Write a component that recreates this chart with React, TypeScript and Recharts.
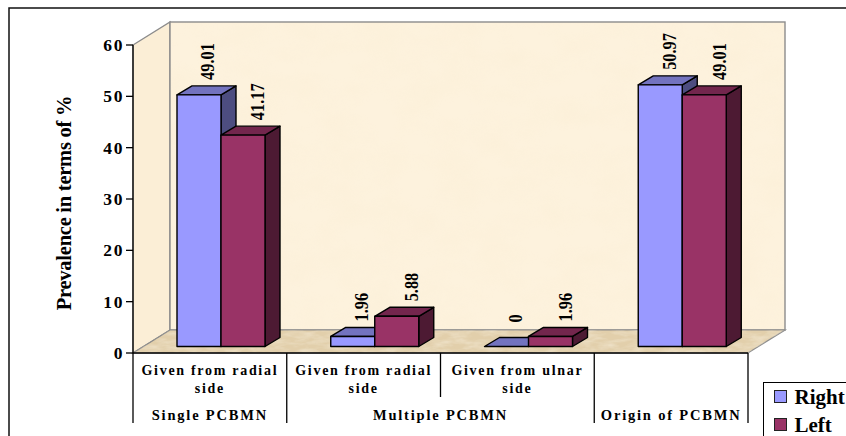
import { Bar, BarChart, LabelList, Legend, XAxis, YAxis } from 'recharts';

const categories = ['Given from radial side', 'Given from radial side', 'Given from ulnar side', ''];
const rightValues = [49.01, 1.96, 0, 50.97];
const leftValues = [41.17, 5.88, 1.96, 49.01];
const yTicks = [0, 10, 20, 30, 40, 50, 60];
const groupLabels = ['Single PCBMN', 'Multiple PCBMN', '', 'Origin of PCBMN'];
const groupSpans = [1, 2, 0, 1];

const data = categories.map((category, i) => ({
  category,
  right: rightValues[i],
  left: leftValues[i],
}));

const SERIF = '"Liberation Serif", "Times New Roman", serif';
const LEFT = 133;
const TOP = 45;
const BOTTOM = 353;
const RIGHT = 748;
const STEP = (RIGHT - LEFT) / categories.length;

// depth of the fake 3d box
const WALL_DX = 37;
const WALL_DY = 23;
const BAR_DX = 15;
const BAR_DY = 9;
const SHIFT_X = 11;
const SHIFT_Y = -6.5;

const rightColors = { front: '#9999ff', top: '#7373bf', side: '#4d4d80' };
const leftColors = { front: '#993366', top: '#73264d', side: '#4d1a33' };

const Bar3D = (colors: typeof rightColors) => (props: any) => {
  const x = props.x + SHIFT_X;
  const y = props.y + SHIFT_Y;
  const { width: w, height: h } = props;
  const line = { stroke: '#000', strokeWidth: 1.4, strokeLinejoin: 'round' as const };
  return (
    <g>
      <polygon
        points={`${x + w},${y} ${x + w + BAR_DX},${y - BAR_DY} ${x + w + BAR_DX},${y + h - BAR_DY} ${x + w},${y + h}`}
        fill={colors.side}
        {...line}
      />
      <polygon
        points={`${x},${y} ${x + BAR_DX},${y - BAR_DY} ${x + w + BAR_DX},${y - BAR_DY} ${x + w},${y}`}
        fill={colors.top}
        {...line}
      />
      <rect x={x} y={y} width={w} height={h} fill={colors.front} {...line} />
    </g>
  );
};

const ValueLabel = (extraX: number) => (props: any) => {
  const { x, y, width, value } = props;
  const cx = x + SHIFT_X + width / 2 + extraX;
  const gap = value === 0 ? 24 : 15;
  const bottom = y + SHIFT_Y - gap;
  // the original text is tall and squeezed along its length
  return (
    <text
      transform={`translate(${cx} ${bottom}) rotate(-90) scale(0.86 1)`}
      dominantBaseline="central"
      fontFamily={SERIF}
      fontSize={19}
      fontWeight="bold"
      fill="#000"
    >
      {value}
    </text>
  );
};

const CategoryTick = (props: any) => {
  const { x, index, payload } = props;
  const words = String(payload.value);
  const last = words.lastIndexOf(' ');
  const lines = last > 0 ? [words.slice(0, last), words.slice(last + 1)] : [words];
  const left = x - STEP / 2;
  return (
    <g>
      <line x1={left} x2={left} y1={BOTTOM} y2={index === 2 ? 397 : 423} stroke="#000" strokeWidth={1.3} />
      {index === categories.length - 1 && (
        <line x1={x + STEP / 2} x2={x + STEP / 2} y1={BOTTOM} y2={423} stroke="#000" strokeWidth={1.3} />
      )}
      {lines.map((line, i) => (
        <text
          key={i}
          x={x}
          y={375 + i * 18}
          textAnchor="middle"
          fontFamily={SERIF}
          fontSize={14}
          fontWeight="bold"
          letterSpacing={1.7}
          fill="#000"
        >
          {line}
        </text>
      ))}
    </g>
  );
};

const GroupTick = (props: any) => {
  const { x, index } = props;
  if (!groupLabels[index]) return <g />;
  return (
    <text
      x={x + ((groupSpans[index] - 1) * STEP) / 2}
      y={420}
      textAnchor="middle"
      fontFamily={SERIF}
      fontSize={14.5}
      fontWeight="bold"
      letterSpacing={1.8}
      fill="#000"
    >
      {groupLabels[index]}
    </text>
  );
};

const YTick = (props: any) => (
  <text
    x={props.x}
    y={props.y + 6}
    textAnchor="end"
    fontFamily={SERIF}
    fontSize={17.5}
    fontWeight="bold"
    letterSpacing={1.6}
    fill="#000"
  >
    {props.payload.value}
  </text>
);

const LegendBox = (props: any) => (
  <div
    style={{
      width: 90,
      height: 60,
      boxSizing: 'border-box',
      border: '1.5px solid #000',
      background: '#fff',
      paddingLeft: 10,
      paddingTop: 2.5,
      fontFamily: SERIF,
      fontWeight: 'bold',
      fontSize: 21,
      lineHeight: '22px',
      color: '#000',
      whiteSpace: 'nowrap',
    }}
  >
    {(props.payload || []).map((item: any) => (
      <div key={item.value} style={{ display: 'flex', alignItems: 'center', marginBottom: 6 }}>
        <span
          style={{
            display: 'inline-block',
            boxSizing: 'border-box',
            width: 13,
            height: 13,
            background: item.color,
            border: '1px solid #222',
            marginRight: 7.5,
          }}
        />
        {item.value}
      </div>
    ))}
  </div>
);

const Box = () => (
  <g>
    <defs>
      <filter id="paper" x="0" y="0" width="100%" height="100%">
        <feTurbulence type="fractalNoise" baseFrequency="0.025 0.04" numOctaves={3} seed={4} />
        <feColorMatrix values="0 0 0 0 0.93  0 0 0 0 0.80  0 0 0 0 0.58  0.9 0 0 0 -0.3" />
      </filter>
      <filter id="sand" x="0" y="0" width="100%" height="100%">
        <feTurbulence type="fractalNoise" baseFrequency="0.06 0.2" numOctaves={3} seed={9} />
        <feColorMatrix values="0 0 0 0 0.98  0 0 0 0 0.93  0 0 0 0 0.82  1.6 0 0 0 -0.55" />
      </filter>
      <clipPath id="floorClip">
        <polygon points={`${LEFT},${BOTTOM} ${LEFT + WALL_DX},${BOTTOM - WALL_DY} ${RIGHT + WALL_DX},${BOTTOM - WALL_DY} ${RIGHT},${BOTTOM}`} />
      </clipPath>
    </defs>
    <rect x={9} y={8} width={900} height={500} fill="#fff" stroke="#111" strokeWidth={1.5} />
    <polygon
      points={`${LEFT},${TOP} ${LEFT + WALL_DX},${TOP - WALL_DY} ${LEFT + WALL_DX},${BOTTOM - WALL_DY} ${LEFT},${BOTTOM}`}
      fill="#fbeed6"
      stroke="#8c8c8c"
      strokeWidth={1.4}
    />
    <rect
      x={LEFT + WALL_DX}
      y={TOP - WALL_DY}
      width={RIGHT - LEFT}
      height={BOTTOM - TOP}
      fill="#fdf2dd"
    />
    <rect
      x={LEFT + WALL_DX}
      y={TOP - WALL_DY}
      width={RIGHT - LEFT}
      height={BOTTOM - TOP}
      filter="url(#paper)"
      opacity={0.3}
    />
    <rect
      x={LEFT + WALL_DX}
      y={TOP - WALL_DY}
      width={RIGHT - LEFT}
      height={BOTTOM - TOP}
      fill="none"
      stroke="#8c8c8c"
      strokeWidth={1.4}
    />
    <polygon
      points={`${LEFT},${BOTTOM} ${LEFT + WALL_DX},${BOTTOM - WALL_DY} ${RIGHT + WALL_DX},${BOTTOM - WALL_DY} ${RIGHT},${BOTTOM}`}
      fill="#e2cfab"
      stroke="#8c8c8c"
      strokeWidth={1.2}
    />
    <g clipPath="url(#floorClip)">
      <rect x={LEFT} y={BOTTOM - WALL_DY} width={RIGHT - LEFT + WALL_DX} height={WALL_DY} filter="url(#sand)" opacity={0.5} />
    </g>
  </g>
);

export default function App() {
  return (
    <div style={{ position: 'fixed', left: 0, top: 0, width: 846, height: 436, overflow: 'hidden', background: '#fff' }}>
      <BarChart
        width={846}
        height={436}
        data={data}
        margin={{ top: TOP, right: 846 - RIGHT, bottom: 0, left: 33 }}
        barSize={44}
        barGap={0}
      >
        <Box />
        <YAxis
          width={100}
          domain={[0, 60]}
          ticks={yTicks}
          interval={0}
          tick={YTick}
          tickSize={7}
          axisLine={{ stroke: '#000', strokeWidth: 1.3 }}
          tickLine={{ stroke: '#000', strokeWidth: 1.3 }}
          label={{
            value: 'Prevalence in terms of %',
            angle: -90,
            position: 'center',
            dx: -19,
            dy: 4,
            style: { fontFamily: SERIF, fontSize: 20.5, fontWeight: 'bold', fill: '#000', letterSpacing: -0.25 },
          }}
        />
        <XAxis
          xAxisId="cat"
          dataKey="category"
          height={45}
          interval={0}
          tick={CategoryTick}
          tickLine={false}
          axisLine={{ stroke: '#000', strokeWidth: 1.5 }}
        />
        <XAxis
          xAxisId="group"
          dataKey="category"
          height={38}
          interval={0}
          tick={GroupTick}
          tickLine={false}
          axisLine={false}
        />
        <Legend
          layout="horizontal"
          verticalAlign="middle"
          align="center"
          itemSorter={null}
          content={LegendBox}
          wrapperStyle={{ position: 'absolute', left: 763, top: 382, width: 90, height: 60 }}
        />
        <Bar dataKey="right" name="Right" xAxisId="cat" fill={rightColors.front} shape={Bar3D(rightColors)} isAnimationActive={false}>
          <LabelList dataKey="right" content={ValueLabel(9)} />
        </Bar>
        <Bar dataKey="left" name="Left" xAxisId="cat" fill={leftColors.front} shape={Bar3D(leftColors)} isAnimationActive={false}>
          <LabelList dataKey="left" content={ValueLabel(15)} />
        </Bar>
      </BarChart>
    </div>
  );
}
